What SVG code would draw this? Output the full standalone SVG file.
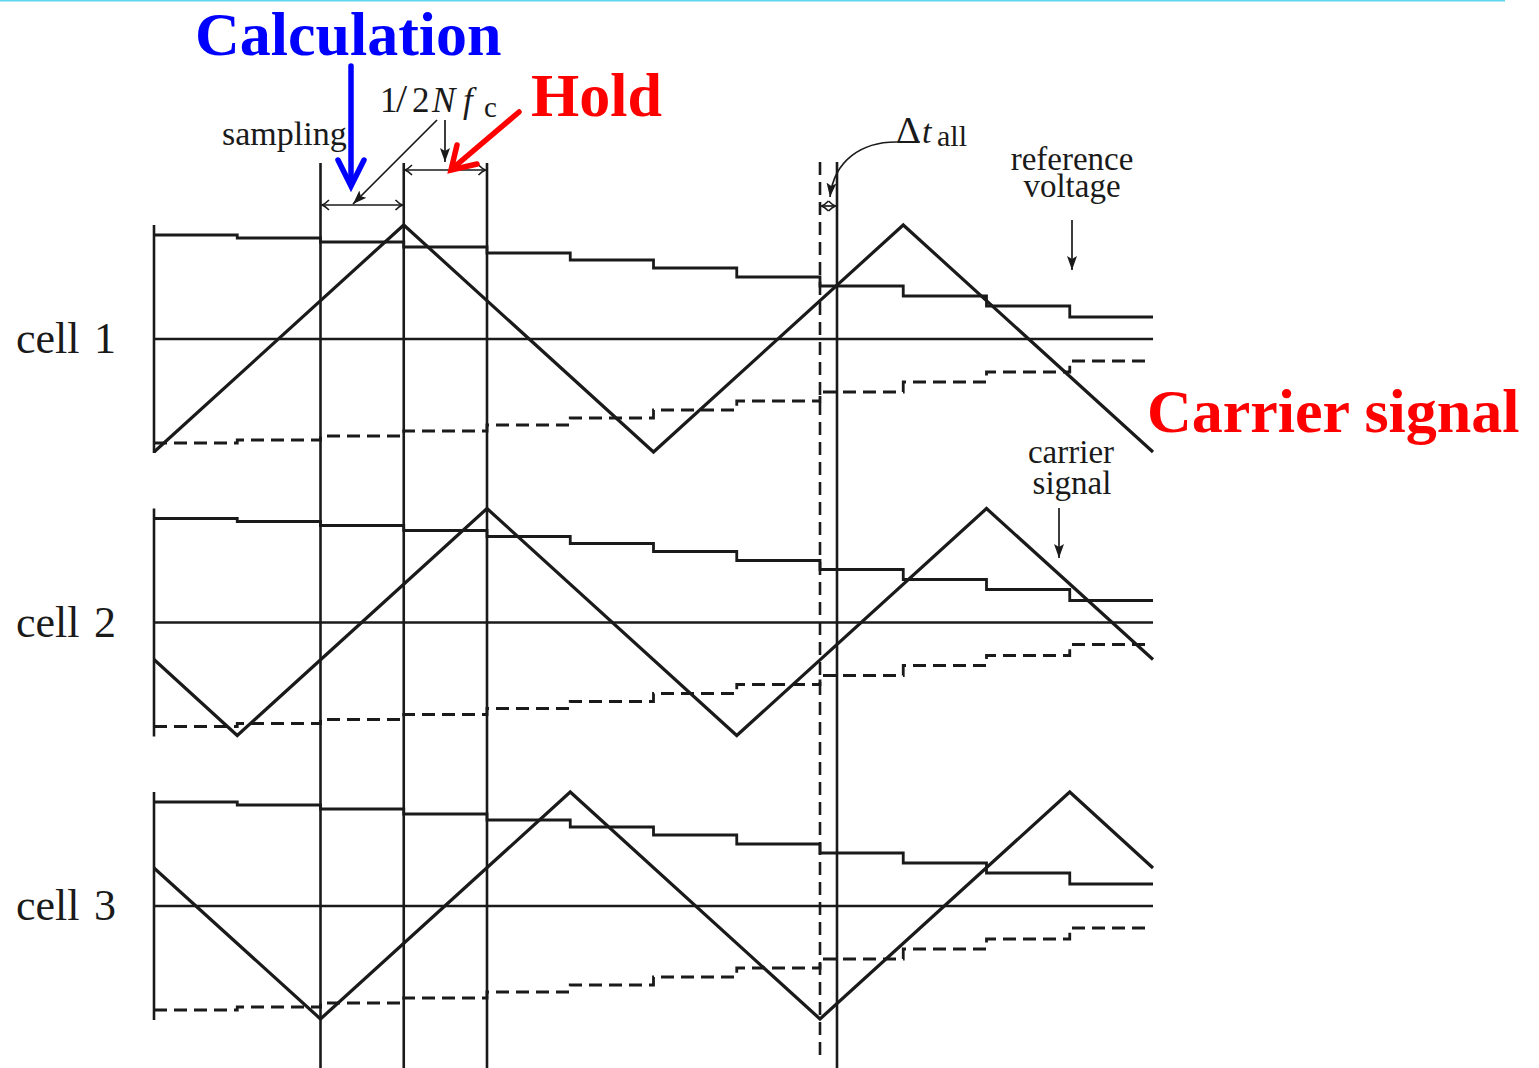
<svg xmlns="http://www.w3.org/2000/svg" width="1539" height="1068" viewBox="0 0 1539 1068">
<style>
  .ln{fill:none;stroke:#1a1a1a;stroke-width:2.6}
  .car{fill:none;stroke:#1a1a1a;stroke-width:3.2;stroke-linejoin:miter}
  .ref{fill:none;stroke:#1a1a1a;stroke-width:2.8}
  .neg{fill:none;stroke:#1a1a1a;stroke-width:2.8;stroke-dasharray:13 7}
  .thin{fill:none;stroke:#1a1a1a;stroke-width:1.7}
  .t{font-family:"Liberation Serif","Times New Roman",serif;fill:#1a1a1a}
  .lab{font-family:"Liberation Serif","Times New Roman",serif;font-size:44px;fill:#1a1a1a}
  .big{font-family:"Liberation Serif","Times New Roman",serif;font-weight:bold;font-size:62px}
</style>
<defs>
  <marker id="fh" viewBox="-14 -6 16 12" refX="0" refY="0" markerWidth="16" markerHeight="12" markerUnits="userSpaceOnUse" orient="auto">
    <path d="M-14,-5 L0,0 L-14,5 L-11,0 Z" fill="#1a1a1a"/>
  </marker>
  <marker id="ch" viewBox="-10 -7 12 14" refX="0" refY="0" markerWidth="12" markerHeight="14" markerUnits="userSpaceOnUse" orient="auto-start-reverse">
    <path d="M-7,-5 Q-3,-1 0,0 Q-3,1 -7,5" fill="none" stroke="#1a1a1a" stroke-width="1.6"/>
  </marker>
</defs>

<line x1="0" y1="0.8" x2="1505" y2="0.8" stroke="#5fd6ee" stroke-width="1.6"/>

<g id="cell1">
  <line class="ln" x1="154" y1="225" x2="154" y2="453"/>
  <line class="ln" x1="154" y1="339" x2="1153" y2="339"/>
  <path class="ref" d="M154,235 H237.25 V238 H320.5 V242 H403.75 V247 H487 V253 H570.25 V260 H653.5 V268 H736.75 V277 H820 V286 H903.25 V296 H986.5 V306 H1069.75 V317 H1153"/>
  <path class="neg" d="M154,443 H237.25 V440 H320.5 V436 H403.75 V431 H487 V425 H570.25 V418 H653.5 V410 H736.75 V401 H820 V392 H903.25 V382 H986.5 V372 H1069.75 V361 H1150"/>
  <polyline class="car" points="154,452 403.75,225 653.5,452 903.25,225 1153,452"/>
  <text class="lab" x="16" y="353">cell<tspan x="94">1</tspan></text>
</g>

<g id="cell2" transform="translate(0,283.5)">
  <line class="ln" x1="154" y1="225" x2="154" y2="453"/>
  <line class="ln" x1="154" y1="339" x2="1153" y2="339"/>
  <path class="ref" d="M154,235 H237.25 V238 H320.5 V242 H403.75 V247 H487 V253 H570.25 V260 H653.5 V268 H736.75 V277 H820 V286 H903.25 V296 H986.5 V306 H1069.75 V317 H1153"/>
  <path class="neg" d="M154,443 H237.25 V440 H320.5 V436 H403.75 V431 H487 V425 H570.25 V418 H653.5 V410 H736.75 V401 H820 V392 H903.25 V382 H986.5 V372 H1069.75 V361 H1150"/>
  <polyline class="car" points="154,376 237.25,452 487,225 736.75,452 986.5,225 1153,376"/>
  <text class="lab" x="16" y="353">cell<tspan x="94">2</tspan></text>
</g>

<g id="cell3" transform="translate(0,567)">
  <line class="ln" x1="154" y1="225" x2="154" y2="453"/>
  <line class="ln" x1="154" y1="339" x2="1153" y2="339"/>
  <path class="ref" d="M154,235 H237.25 V238 H320.5 V242 H403.75 V247 H487 V253 H570.25 V260 H653.5 V268 H736.75 V277 H820 V286 H903.25 V296 H986.5 V306 H1069.75 V317 H1153"/>
  <path class="neg" d="M154,443 H237.25 V440 H320.5 V436 H403.75 V431 H487 V425 H570.25 V418 H653.5 V410 H736.75 V401 H820 V392 H903.25 V382 H986.5 V372 H1069.75 V361 H1150"/>
  <polyline class="car" points="154,301 320.5,452 570.25,225 820,452 1069.75,225 1153,301"/>
  <text class="lab" x="16" y="353">cell<tspan x="94">3</tspan></text>
</g>

<g id="timing-lines">
  <line class="ln" x1="320.5" y1="163" x2="320.5" y2="1068"/>
  <line class="ln" x1="403.75" y1="163" x2="403.75" y2="1068"/>
  <line class="ln" x1="487" y1="163" x2="487" y2="1068"/>
  <line class="ln" x1="820" y1="162" x2="820" y2="1062" stroke-dasharray="13 7"/>
  <line class="ln" x1="837" y1="162" x2="837" y2="1068"/>
</g>

<g id="connectors">
  <line class="thin" x1="322" y1="205" x2="402.5" y2="205" marker-start="url(#ch)" marker-end="url(#ch)"/>
  <line class="thin" x1="405" y1="170" x2="485.5" y2="170" marker-start="url(#ch)" marker-end="url(#ch)"/>
  <line class="thin" x1="821.5" y1="206" x2="835.5" y2="206" marker-start="url(#ch)" marker-end="url(#ch)"/>
  <line class="thin" x1="437" y1="120" x2="353" y2="204" marker-end="url(#fh)"/>
  <line class="thin" x1="445" y1="120" x2="445" y2="162" marker-end="url(#fh)"/>
  <path class="thin" d="M920,142 H896 C862,142 834,160 830,197" marker-end="url(#fh)"/>
  <line class="thin" x1="1072" y1="220" x2="1072" y2="270" marker-end="url(#fh)"/>
  <line class="thin" x1="1059" y1="508" x2="1059" y2="558" marker-end="url(#fh)"/>
  <g id="calc-arrow" fill="none" stroke="#0000ff" stroke-width="5.5" stroke-linecap="round">
    <line x1="351" y1="66" x2="351" y2="184"/>
    <polyline points="338,160 351,186 364,160"/>
  </g>
  <g id="hold-arrow" fill="none" stroke="#ff0000" stroke-width="5.5" stroke-linecap="round">
    <line x1="519" y1="112" x2="453" y2="168"/>
    <polyline points="457,145 451,170 477,164"/>
  </g>
</g>

<g id="labels">
  <text class="big" x="195" y="55" fill="#0000ff">Calculation</text>
  <text class="big" x="531" y="116" fill="#ff0000">Hold</text>
  <text class="big" x="1147" y="432" fill="#ff0000">Carrier signal</text>
  <text class="t" x="222" y="145" font-size="34">sampling</text>
  <text class="t" y="112" font-size="35"><tspan x="380">1</tspan><tspan x="396" font-size="40">/</tspan><tspan x="412">2</tspan><tspan x="432" font-style="italic">N</tspan><tspan x="463" font-style="italic">f</tspan><tspan x="484" y="117" font-size="29">c</tspan></text>
  <text class="t" y="143" font-size="34"><tspan x="896" font-size="38">Δ</tspan><tspan x="922" font-style="italic">t</tspan><tspan x="937" y="146" font-size="30">all</tspan></text>
  <text class="t" x="1072" y="170" font-size="33" text-anchor="middle">reference</text>
  <text class="t" x="1072" y="197" font-size="33" text-anchor="middle">voltage</text>
  <text class="t" x="1071" y="463" font-size="33" text-anchor="middle">carrier</text>
  <text class="t" x="1072" y="494" font-size="33" text-anchor="middle">signal</text>
</g>
</svg>
